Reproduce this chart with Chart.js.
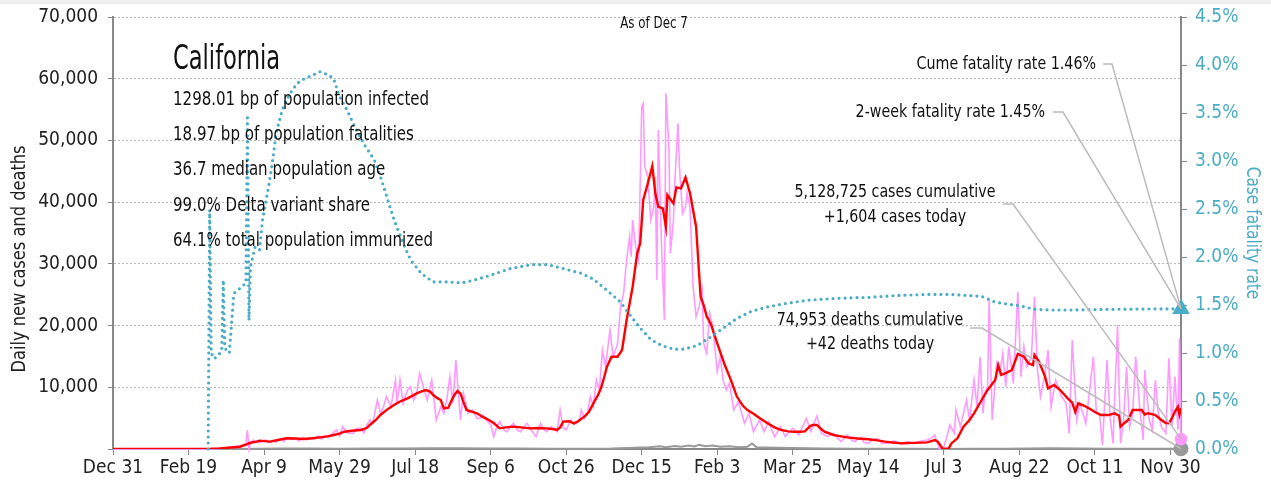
<!DOCTYPE html>
<html>
<head>
<meta charset="utf-8">
<script src="https://cdn.jsdelivr.net/npm/chart.js@4"></script>
<style>
  html, body { margin: 0; padding: 0; background: #fff; }
  #wrap { width: 1271px; height: 488px; }
</style>
</head>
<body>
<div id="wrap"><canvas id="chart" width="1271" height="488"></canvas></div>
<script>
// day 0 = Dec 31 2019, last point = Dec 7 2021 (day 707)
const xTickLabels = ['Dec 31', 'Feb 19', 'Apr 9', 'May 29', 'Jul 18', 'Sep 6', 'Oct 26', 'Dec 15',
  'Feb 3', 'Mar 25', 'May 14', 'Jul 3', 'Aug 22', 'Oct 11', 'Nov 30']

// daily new cases [day, cases]
const dailyCases = [
  [0, 0], [60, 0], [66, 50], [70, 100], [75, 200], [80, 350], [84, 500], [88, 900], [89, 3080], [90, 0],
  [91, 900], [93, 1460], [96, 1000], [99, 1190], [101, 1500], [103, 1000], [106, 1400], [108, 1100],
  [111, 1700], [113, 1200], [116, 1900], [118, 1500], [121, 1700], [123, 1300], [126, 1900], [128, 1500],
  [131, 1800], [133, 1600], [136, 2100], [138, 1600], [141, 2200], [143, 1900], [146, 2700], [148, 3080],
  [150, 2100], [152, 3620], [155, 2600], [159, 2540], [161, 3300], [164, 3350], [166, 2600], [168, 3890],
  [170, 4700], [172, 4200], [175, 7940], [177, 5780], [179, 6800], [181, 8480], [184, 6860], [187, 11180],
  [188, 7400], [190, 11180], [192, 7400], [195, 9560], [197, 10100], [199, 7940], [201, 9000], [203, 12260],
  [206, 9560], [208, 7940], [211, 11180], [214, 4700], [217, 6860], [219, 5780], [221, 8000], [223, 11720],
  [225, 7400], [227, 14420], [229, 7940], [230, 4700], [232, 9020], [235, 5780], [238, 6320], [241, 5000],
  [243, 4970], [245, 5500], [247, 4700], [250, 4000], [252, 2000], [254, 3500], [256, 4430], [259, 3000],
  [261, 2810], [263, 3600], [265, 4160], [268, 3000], [270, 2810], [272, 3500], [274, 4160], [277, 3000],
  [280, 2000], [283, 4160], [285, 3200], [287, 2810], [290, 3600], [292, 3300], [294, 2810], [296, 6320],
  [298, 3500], [300, 3080], [303, 4700], [305, 4000], [307, 4160], [309, 5000], [310, 6320], [312, 5000],
  [314, 5780], [316, 8480], [318, 6860], [320, 11180], [322, 9560], [324, 16040], [326, 13340], [329, 19280],
  [331, 14960], [334, 17000], [336, 23060], [338, 25220], [340, 30620], [342, 34400], [343, 31160],
  [344, 37100], [346, 32780], [348, 30620], [350, 55460], [351, 56000], [352, 45740], [354, 44120],
  [356, 37100], [358, 39250], [359, 44120], [360, 27380], [361, 51700], [363, 33870], [365, 20900],
  [366, 57630], [368, 48980], [369, 31700], [371, 37100], [372, 43580], [374, 52780], [375, 45740],
  [377, 38170], [379, 39250], [380, 41420], [382, 39250], [384, 26300], [386, 21440], [388, 23060],
  [390, 25760], [391, 17120], [393, 15500], [395, 21980], [397, 19820], [400, 12530], [402, 14960],
  [404, 11000], [406, 9560], [408, 10640], [411, 6320], [414, 7670], [418, 4160], [421, 5780], [424, 2810],
  [428, 4700], [431, 2810], [434, 4430], [438, 2000], [442, 3620], [445, 2000], [450, 3350], [454, 2270],
  [459, 4970], [462, 2810], [466, 5350], [469, 2540], [473, 2000], [477, 2540], [480, 1700], [482, 1190],
  [486, 2270], [489, 1400], [491, 1190], [495, 1890], [497, 1100], [500, 920], [503, 1500], [506, 1730],
  [509, 900], [513, 920], [517, 1300], [522, 810], [526, 1200], [530, 920], [535, 1300], [539, 1460],
  [542, 1800], [544, 2270], [547, 0], [550, 370], [552, 2000], [554, 3890], [557, 2540], [558, 6320],
  [560, 4500], [561, 3620], [565, 7940], [567, 4700], [570, 11180], [572, 6860], [574, 14960], [576, 5780],
  [577, 9020], [579, 10100], [580, 24130], [582, 4700], [585, 13880], [587, 12260], [589, 15500],
  [591, 10100], [593, 16580], [596, 10640], [599, 25490], [601, 11720], [603, 16580], [605, 13340],
  [608, 14960], [610, 24670], [612, 12800], [614, 8480], [617, 12260], [619, 16040], [621, 6860],
  [624, 11180], [628, 8480], [631, 7400], [633, 2540], [635, 17660], [638, 4700], [640, 7400], [642, 5780],
  [644, 4160], [646, 8480], [649, 14960], [651, 5780], [653, 5780], [655, 650], [658, 14420], [660, 5240],
  [662, 920], [665, 20100], [667, 920], [669, 4700], [671, 13340], [673, 3620], [675, 5780], [677, 14960],
  [680, 5780], [682, 1460], [683, 12800], [686, 4700], [688, 3080], [690, 11180], [692, 5780], [694, 3620],
  [697, 2540], [699, 14690], [701, 3620], [703, 11720], [705, 3080], [706, 17930], [707, 1604]
]

// 7-day average of new cases [day, cases]
const avgCases = [
  [0, 0], [60, 0], [65, 30], [71, 100], [78, 250], [84, 370], [88, 700], [91, 1020], [95, 1200], [97, 1350],
  [104, 1190], [110, 1500], [115, 1730], [121, 1700], [126, 1620], [132, 1750], [137, 1890], [142, 2050],
  [146, 2270], [150, 2500], [153, 2800], [158, 2950], [164, 3080], [168, 3400], [170, 3890], [174, 4700],
  [177, 5510], [181, 6300], [186, 7130], [190, 7700], [195, 8210], [201, 9020], [204, 9300], [207, 9560],
  [210, 9300], [212, 8750], [215, 8200], [217, 7940], [219, 6590], [222, 6700], [224, 7800], [226, 8750],
  [228, 9400], [230, 9000], [232, 7600], [234, 6320], [238, 6000], [241, 5780], [244, 5300], [248, 4810],
  [252, 4200], [256, 3350], [260, 3500], [265, 3620], [270, 3500], [276, 3350], [282, 3400], [287, 3350],
  [292, 3200], [294, 3080], [296, 3500], [298, 4430], [302, 4500], [305, 4160], [308, 4500], [312, 5240],
  [315, 6000], [318, 7400], [321, 8700], [323, 9830], [325, 11500], [327, 13340], [330, 14960], [334, 14960],
  [337, 16040], [340, 20900], [344, 26300], [347, 31700], [349, 33330], [351, 40340], [354, 43000],
  [357, 45850], [359, 41420], [361, 39250], [364, 39000], [366, 36020], [367, 41150], [371, 39800],
  [373, 42400], [376, 42240], [379, 44020], [382, 41420], [386, 36020], [389, 24670], [391, 23300],
  [393, 21500], [396, 20100], [400, 17100], [405, 13600], [409, 11200], [413, 8500], [417, 7000], [420, 6300],
  [424, 5700], [427, 5200], [433, 4200], [438, 3500], [442, 3100], [447, 2850], [451, 2800], [455, 2800],
  [458, 2850], [461, 3600], [463, 3900], [466, 3900], [468, 3400], [471, 2800], [477, 2270], [482, 2050],
  [486, 1890], [493, 1700], [500, 1570], [506, 1400], [511, 1190], [516, 1050], [522, 920], [530, 1000],
  [539, 1080], [544, 1460], [546, 1190], [549, 100], [553, 0], [555, 900], [559, 1730], [563, 3620],
  [567, 4700], [570, 5780], [575, 7940], [579, 9560], [584, 11180], [586, 13600], [588, 12000], [591, 12300],
  [595, 12800], [599, 15400], [603, 14950], [606, 13890], [609, 13600], [610, 15240], [613, 14160],
  [617, 11720], [619, 9830], [623, 10370], [627, 9560], [632, 8210], [635, 7510], [637, 6000], [639, 7400],
  [643, 7000], [646, 6590], [650, 6000], [654, 5510], [659, 5500], [663, 5780], [666, 5400], [667, 3620],
  [670, 4300], [672, 4700], [675, 6320], [678, 6320], [681, 6320], [683, 5600], [685, 5780], [687, 5700],
  [690, 5510], [694, 4700], [697, 4200], [699, 4160], [701, 5000], [703, 6050], [705, 6860], [706, 5600],
  [707, 6590]
]

// daily deaths [day, deaths]
const dailyDeaths = [
  [0, 0], [70, 0], [80, 20], [95, 60], [110, 80], [130, 70], [150, 60], [170, 70], [190, 90], [210, 120],
  [230, 130], [250, 100], [270, 80], [290, 50], [310, 60], [330, 90], [345, 200], [355, 300], [362, 450],
  [366, 300], [372, 500], [376, 350], [381, 550], [385, 400], [388, 700], [392, 450], [397, 550], [402, 350],
  [408, 450], [414, 300], [420, 350], [423, 900], [426, 300], [432, 250], [440, 200], [450, 150], [470, 80],
  [490, 60], [510, 40], [530, 30], [550, 20], [570, 30], [590, 60], [605, 100], [620, 120], [640, 80],
  [660, 60], [680, 40], [700, 30], [707, 42]
]

// case fatality rate, % [day, rate]
const fatalityRate = [
  [63, 0], [64, 2.49], [65, 1.0], [67, 0.94], [70, 0.98], [72, 1.03], [73, 1.76], [74, 1.05], [77, 1.0],
  [80, 1.62], [83, 1.66], [86, 1.7], [88, 1.73], [89, 3.45], [90, 1.34], [91, 1.9], [94, 2.1], [97, 2.07],
  [99, 2.39], [103, 2.73], [106, 3.04], [108, 3.29], [112, 3.53], [117, 3.7], [122, 3.81], [127, 3.86],
  [133, 3.9], [137, 3.93], [142, 3.9], [146, 3.86], [150, 3.67], [155, 3.53], [159, 3.39], [166, 3.18],
  [173, 3.01], [177, 2.84], [182, 2.59], [186, 2.39], [193, 2.11], [197, 1.97], [204, 1.83], [212, 1.74],
  [222, 1.74], [231, 1.73], [239, 1.76], [250, 1.81], [263, 1.88], [277, 1.92], [288, 1.92], [298, 1.88],
  [310, 1.83], [318, 1.77], [328, 1.64], [336, 1.53], [343, 1.38], [349, 1.26], [356, 1.14], [363, 1.08],
  [371, 1.04], [378, 1.04], [387, 1.08], [396, 1.17], [405, 1.27], [413, 1.36], [422, 1.43], [433, 1.48],
  [447, 1.52], [460, 1.55], [480, 1.57], [500, 1.58], [520, 1.6], [540, 1.61], [555, 1.61], [565, 1.6],
  [575, 1.59], [584, 1.53], [592, 1.51], [601, 1.49], [610, 1.455], [621, 1.448], [637, 1.448],
  [659, 1.455], [681, 1.458], [707, 1.46]
]

const infoTitle = 'California'
const infoLines = [
  '1298.01 bp of population infected',
  '18.97 bp of population fatalities',
  '36.7 median population age',
  '99.0% Delta variant share',
  '64.1% total population immunized'
]
const asOfText = 'As of Dec 7'
const cumeRateText = 'Cume fatality rate 1.46%'
const twoWeekRateText = '2-week fatality rate 1.45%'
const casesText = ['5,128,725 cases cumulative', '+1,604 cases today']
const deathsText = ['74,953 deaths cumulative', '+42 deaths today']
const leftTitle = 'Daily new cases and deaths'
const rightTitle = 'Case fatality rate'

const FONT = "'Liberation Sans Narrow', 'DejaVu Sans Condensed', 'Roboto Condensed', Roboto, sans-serif"
const TEAL = '#4bacc6'
const PINK = '#ff99ff'
const GRAY = '#999999'
const NARROW = 0.88

const toXY = arr => arr.map(([x, y]) => ({ x, y }))
const lastOnly = (arr, r) => ctx => (ctx.dataIndex === arr.length - 1 ? r : 0)
const noPad = s => {
  s.paddingTop = 0
  s.paddingBottom = 0
}

// squeezed text, to get closer to the condensed face of the original
function text(c, str, x, y, size, align, sx = NARROW, rot = 0) {
  c.save()
  c.translate(x, y)
  c.rotate(rot)
  c.scale(sx, 1)
  c.font = `${size}px ${FONT}`
  c.textAlign = align
  c.textBaseline = 'middle'
  c.fillText(str, 0, 0)
  c.restore()
}

const annotations = {
  id: 'annotations',
  beforeDraw(chart) {
    const c = chart.ctx
    c.save()
    c.fillStyle = '#eeeeee'
    c.fillRect(0, 0, chart.width, 4)
    c.restore()
  },
  afterDraw(chart) {
    const c = chart.ctx
    const x = chart.scales.x
    const y = chart.scales.y
    const y2 = chart.scales.y2
    const endX = x.getPixelForValue(dailyCases[dailyCases.length - 1][0])
    const rateY = y2.getPixelForValue(fatalityRate[fatalityRate.length - 1][1])
    const caseY = y.getPixelForValue(dailyCases[dailyCases.length - 1][1])
    const deathY = y.getPixelForValue(dailyDeaths[dailyDeaths.length - 1][1])

    c.save()
    c.fillStyle = '#111'
    text(c, infoTitle, 173, 60, 33, 'left', 0.76)
    infoLines.forEach((line, i) => text(c, line, 173, 100 + i * 35.2, 19, 'left'))
    text(c, asOfText, 654, 24, 15, 'center')

    text(c, cumeRateText, 1096, 64, 18, 'right')
    text(c, twoWeekRateText, 1045, 112, 18, 'right')
    text(c, casesText[0], 895, 192, 18, 'center')
    text(c, casesText[1], 895, 217, 18, 'center')
    text(c, deathsText[0], 870, 320, 18, 'center')
    text(c, deathsText[1], 870, 344, 18, 'center')

    c.fillStyle = '#222'
    text(c, leftTitle, 20, 259, 19, 'center', 0.95, -Math.PI / 2)
    c.fillStyle = TEAL
    text(c, rightTitle, 1252, 233, 19, 'center', 0.9, Math.PI / 2)

    c.strokeStyle = '#bbbbbb'
    c.lineWidth = 1.5
    const leader = (x0, yy, x1, tx, ty) => {
      c.beginPath()
      c.moveTo(x0, yy)
      c.lineTo(x1, yy)
      c.lineTo(tx, ty)
      c.stroke()
    }
    leader(1103, 64, 1112, endX, rateY)
    leader(1053, 112, 1063, endX, rateY)
    leader(1003, 204, 1013, endX, caseY)
    leader(970, 328, 982, endX, deathY)
    c.restore()
  }
}

new Chart(document.getElementById('chart'), {
  type: 'line',
  data: {
    datasets: [
      {
        label: 'Case fatality rate',
        data: toXY(fatalityRate),
        yAxisID: 'y2',
        borderColor: TEAL,
        backgroundColor: TEAL,
        borderWidth: 3.2,
        borderDash: [0, 6],
        borderCapStyle: 'round',
        pointStyle: 'triangle',
        pointRadius: lastOnly(fatalityRate, 7),
        clip: false,
        order: 0
      },
      {
        label: '7-day average',
        data: toXY(avgCases),
        yAxisID: 'y',
        borderColor: '#ff0000',
        borderWidth: 2.4,
        pointRadius: 0,
        order: 1
      },
      {
        label: 'Daily new cases',
        data: toXY(dailyCases),
        yAxisID: 'y',
        borderColor: PINK,
        backgroundColor: PINK,
        borderWidth: 1.6,
        pointRadius: lastOnly(dailyCases, 5.5),
        clip: false,
        order: 2
      },
      {
        label: 'Daily deaths',
        data: toXY(dailyDeaths),
        yAxisID: 'y',
        borderColor: GRAY,
        backgroundColor: GRAY,
        borderWidth: 2,
        pointRadius: lastOnly(dailyDeaths, 6.5),
        clip: false,
        order: 3
      }
    ]
  },
  options: {
    responsive: false,
    animation: false,
    layout: { padding: { top: 17 } },
    plugins: { legend: { display: false }, tooltip: { enabled: false } },
    elements: { point: { borderWidth: 0 }, line: { tension: 0 } },
    scales: {
      x: {
        type: 'linear',
        min: 0,
        max: 707,
        afterFit: s => {
          s.height = 39
          s.paddingLeft = 0
          s.paddingRight = 0
        },
        afterBuildTicks: s => {
          s.ticks = xTickLabels.map((_, i) => ({ value: i * 50 }))
        },
        ticks: {
          autoSkip: false,
          maxRotation: 0,
          padding: 2,
          color: '#222',
          font: { family: FONT, size: 19 },
          callback: v => xTickLabels[v / 50]
        },
        grid: { drawOnChartArea: false, drawTicks: true, tickLength: 6, tickColor: '#888' },
        border: { color: '#888', width: 2 }
      },
      y: {
        position: 'left',
        min: 0,
        max: 70000,
        afterFit: s => {
          s.width = 113
          noPad(s)
        },
        ticks: {
          stepSize: 10000,
          padding: 10,
          color: '#222',
          font: { family: FONT, size: 19 },
          callback: v => (v === 0 ? '' : v.toLocaleString('en-US'))
        },
        grid: {
          color: '#bbbbbb',
          lineWidth: 1,
          tickLength: 5,
          tickColor: '#888',
          tickBorderDash: []
        },
        border: { color: '#888', width: 2, dash: [2, 2] }
      },
      y2: {
        position: 'right',
        min: 0,
        max: 4.5,
        afterFit: s => {
          s.width = 90
          noPad(s)
        },
        ticks: {
          stepSize: 0.5,
          padding: 8,
          color: TEAL,
          font: { family: FONT, size: 19 },
          callback: v => v.toFixed(1) + '%'
        },
        grid: { drawOnChartArea: false, drawTicks: true, tickLength: 6, tickColor: '#888' },
        border: { color: '#888', width: 2 }
      }
    }
  },
  plugins: [annotations]
})
</script>
</body>
</html>
